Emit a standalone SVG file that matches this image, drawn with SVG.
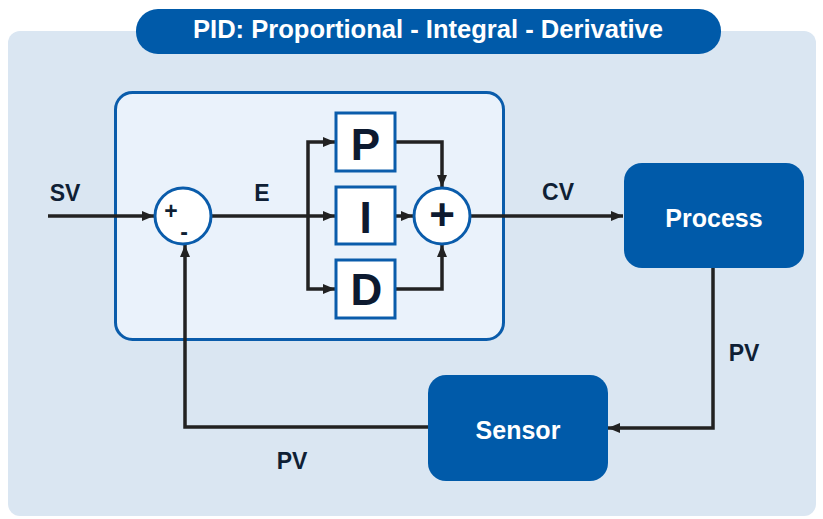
<svg xmlns="http://www.w3.org/2000/svg" width="823" height="519" viewBox="0 0 823 519">
<style>
.lbl{font-family:"Liberation Sans",Arial,sans-serif;font-weight:bold;fill:#0f1f35;font-size:23px;text-anchor:middle}
.wt{font-family:"Liberation Sans",Arial,sans-serif;font-weight:bold;fill:#ffffff;text-anchor:middle}
.blk{fill:#ffffff;stroke:#0a5cab;stroke-width:3}
.big{font-family:"Liberation Sans",Arial,sans-serif;font-weight:bold;fill:#0d1a30;font-size:44px;text-anchor:middle}
.blue{fill:#005aa9}
.ln{fill:none;stroke:#222222;stroke-width:3.5;stroke-linejoin:miter}
</style>
<defs>
<marker id="ah" viewBox="0 0 12 10" refX="12" refY="5" markerWidth="12" markerHeight="10" markerUnits="userSpaceOnUse" orient="auto">
<path d="M0,0 L12,5 L0,10 Z" fill="#222222"/>
</marker>
</defs>
<rect x="8" y="31" width="808" height="485" rx="12" fill="#dae6f2"/>
<g id="title">
<rect x="136" y="9" width="585" height="45" rx="22" class="blue"/>
<text x="428" y="38" class="wt" font-size="25" textLength="470" lengthAdjust="spacingAndGlyphs">PID: Proportional - Integral - Derivative</text>
</g>
<g id="controller">
<rect x="115.5" y="92.5" width="388" height="247" rx="17" fill="#eaf2fb" stroke="#0a5cab" stroke-width="3"/>
</g>
<g id="connectors">
<path class="ln" d="M48,216 L154,216" marker-end="url(#ah)"/>
<path class="ln" d="M212,216 L335,216" marker-end="url(#ah)"/>
<path class="ln" d="M308,216 L308,142 L335,142" marker-end="url(#ah)"/>
<path class="ln" d="M308,216 L308,289 L335,289" marker-end="url(#ah)"/>
<path class="ln" d="M396,142 L442,142 L442,187" marker-end="url(#ah)"/>
<path class="ln" d="M396,216 L413,216" marker-end="url(#ah)"/>
<path class="ln" d="M396,289 L442,289 L442,245" marker-end="url(#ah)"/>
<path class="ln" d="M471,216 L623,216" marker-end="url(#ah)"/>
<path class="ln" d="M713,268 L713,428 L608,428" marker-end="url(#ah)"/>
<path class="ln" d="M428,427 L185,427 L185,245" marker-end="url(#ah)"/>
</g>
<g id="labels">
<text x="65" y="201" class="lbl">SV</text>
<text x="262" y="201" class="lbl">E</text>
<text x="558" y="200" class="lbl">CV</text>
<text x="744" y="361" class="lbl">PV</text>
<text x="292" y="469" class="lbl">PV</text>
</g>
<g id="sum">
<circle cx="183" cy="216" r="28" class="blk"/>
<text x="171" y="219" class="lbl" font-size="18">+</text>
<text x="184" y="240" class="lbl" font-size="18">-</text>
</g>
<g id="P">
<rect x="336" y="113" width="59" height="58" class="blk"/>
<text x="365.5" y="160" class="big">P</text>
</g>
<g id="I">
<rect x="336" y="187" width="59" height="57" class="blk"/>
<text x="365.5" y="233" class="big">I</text>
</g>
<g id="D">
<rect x="336" y="260" width="59" height="58" class="blk"/>
<text x="366.5" y="305" class="big">D</text>
</g>
<g id="plus">
<circle cx="442" cy="216" r="28" class="blk"/>
<text x="442" y="230" class="big" font-size="40">+</text>
</g>
<g id="process">
<rect x="624" y="163" width="180" height="105" rx="18" class="blue"/>
<text x="714" y="227" class="wt" font-size="25">Process</text>
</g>
<g id="sensor">
<rect x="428" y="375" width="180" height="106" rx="18" class="blue"/>
<text x="518" y="439" class="wt" font-size="25">Sensor</text>
</g>
</svg>
